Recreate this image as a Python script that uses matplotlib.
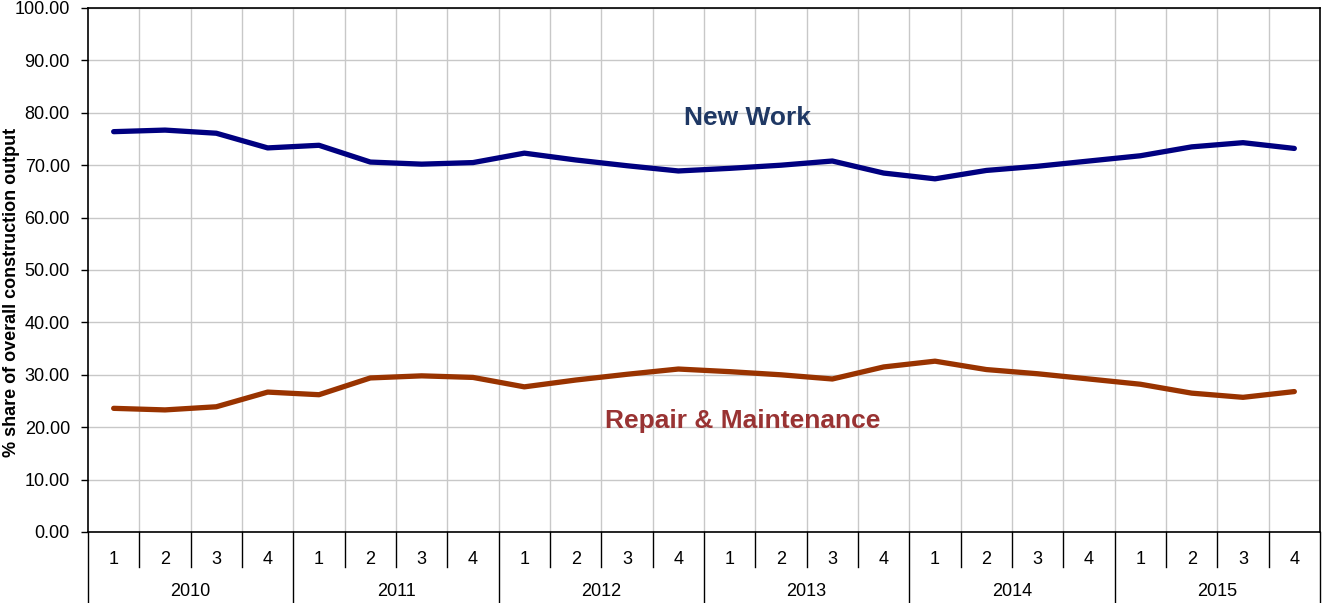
import matplotlib
matplotlib.use("Agg")
import matplotlib.pyplot as plt
import numpy as np

years = ["2010", "2011", "2012", "2013", "2014", "2015"]
quarters = ["1", "2", "3", "4"]
new_work = [76.4, 76.7, 76.1, 73.3, 73.8, 70.6, 70.2, 70.5,
            72.3, 71.0, 69.9, 68.9, 69.4, 70.0, 70.8, 68.5,
            67.4, 69.0, 69.8, 70.8, 71.8, 73.5, 74.3, 73.2]
repair_maint = [23.6, 23.3, 23.9, 26.7, 26.2, 29.4, 29.8, 29.5,
                27.7, 29.0, 30.1, 31.1, 30.6, 30.0, 29.2, 31.5,
                32.6, 31.0, 30.2, 29.2, 28.2, 26.5, 25.7, 26.8]

plt.rcParams['font.family'] = ['Liberation Sans', 'DejaVu Sans']

W, H = 1323, 603
fig = plt.figure(figsize=(W/100, H/100), dpi=100)
ax = fig.add_axes([88/W, (H-532)/H, (1320-88)/W, (532-8)/H])

n = len(new_work)
x = np.arange(n)
ax.plot(x, new_work, color='#000080', lw=3.8, solid_capstyle='round', solid_joinstyle='round', zorder=3)
ax.plot(x, repair_maint, color='#993300', lw=3.8, solid_capstyle='round', solid_joinstyle='round', zorder=3)

ax.set_xlim(-0.5, n - 0.5)
ax.set_ylim(0, 100)
ax.set_yticks(np.arange(0, 101, 10))
ax.set_yticklabels([f"{v:.2f}" for v in np.arange(0, 101, 10)], fontsize=13)
ax.tick_params(axis='y', direction='out', length=5, width=1, color='black', pad=8)
ax.set_xticks([])
ax.grid(axis='y', color='#C8C8C8', lw=1, zorder=0)
for b in np.arange(0.5, n - 0.5, 1):
    ax.axvline(b, color='#C8C8C8', lw=1, zorder=0)
for s in ax.spines.values():
    s.set_color('black')
    s.set_linewidth(1.2)

fig.text(12/W, (H-292)/H, "% share of overall construction output", rotation=90,
         fontsize=13, fontweight='bold', ha='center', va='center')

ax.text(12.35, 77.7, "New Work", fontsize=19, fontweight='bold', color='#1F3864', ha='center', va='baseline')
ax.text(12.26, 19.85, "Repair & Maintenance", fontsize=19, fontweight='bold', color='#993333', ha='center', va='baseline')

# multi-level category axis
trans = ax.get_xaxis_transform()
q_row = -35/524
y_row = -71/524
for i in range(n):
    ax.text(i, -27/524, quarters[i % 4], transform=trans, ha='center', va='center', fontsize=13, clip_on=False)
for j, yr in enumerate(years):
    ax.text(j*4 + 1.5, -59/524, yr, transform=trans, ha='center', va='center', fontsize=13, clip_on=False)
for b in np.arange(-0.5, n, 1):
    if (b + 0.5) % 4 == 0:
        ax.plot([b, b], [0, y_row], transform=trans, color='black', lw=1, clip_on=False)
    else:
        ax.plot([b, b], [0, q_row], transform=trans, color='black', lw=1, clip_on=False)

fig.savefig("out.png", dpi=100)
